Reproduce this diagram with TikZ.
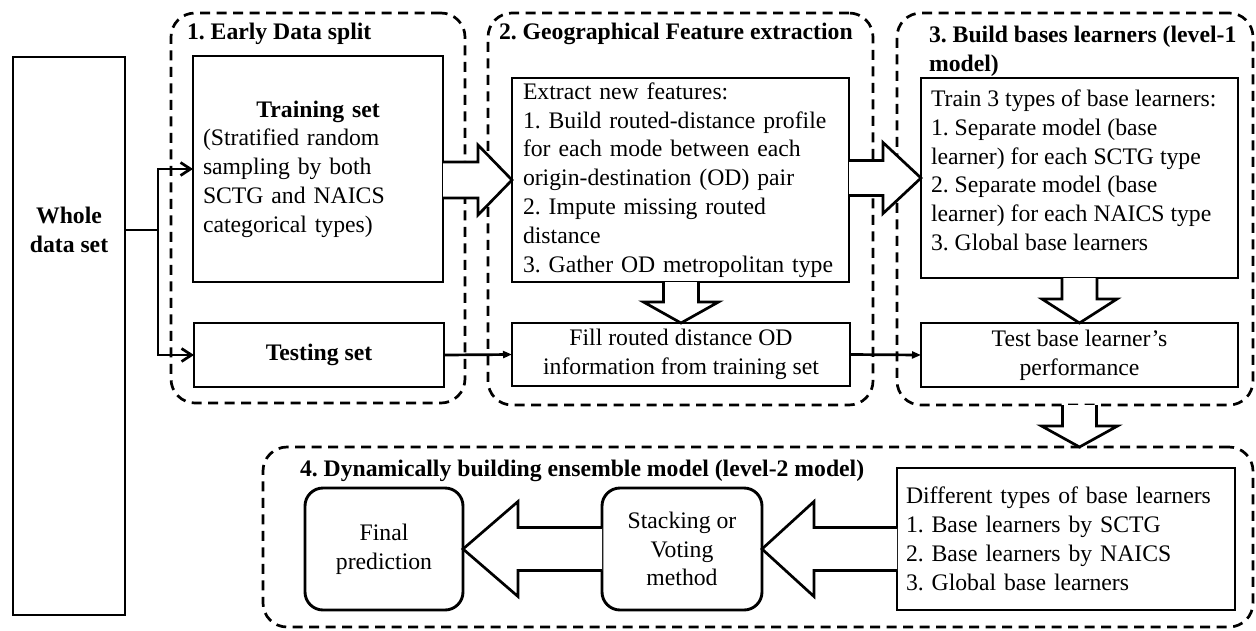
\documentclass[tikz,border=0pt]{standalone}
\usepackage{fontspec}
\setmainfont{Liberation Serif}
\usetikzlibrary{arrows.meta,calc}
\newcommand\fs{\fontsize{23.7}{28.8}\selectfont}
\frenchspacing
\begin{document}
\frenchspacing
\begin{tikzpicture}[x=1pt,y=-1pt,
 every node/.style={font=\fs, inner sep=0pt, outer sep=0pt},
 box/.style={draw, line width=2.9pt, anchor=north west},
 rbox/.style={box, rounded corners=18pt, align=center},
 grp/.style={draw, line width=2.7pt, dash pattern=on 10pt off 6.5pt, rounded corners=24pt, anchor=north west},
 ttl/.style={font=\fs\bfseries},
 blk/.style={draw, fill=white, line width=2.7pt, line join=miter},
 con/.style={line width=2.7pt},
 barb/.style={con, -{Straight Barb[length=10pt,width=13pt]}},
 tri/.style={con, -{Triangle[length=9pt,width=7pt]}}
]
\useasboundingbox (0,0) rectangle (1256,630);

% groups
\node[grp, minimum width=294pt, minimum height=390pt] (g1) at (171,13) {};
\node[grp, minimum width=385pt, minimum height=392pt] (g2) at (488,13) {};
\node[grp, minimum width=356pt, minimum height=392pt] (g3) at (897,13) {};
\node[grp, minimum width=990pt, minimum height=180pt] (g4) at (263,447) {};

% titles
\node[ttl, anchor=base west] (t1) at (187,39) {1. Early Data split};
\node[ttl, anchor=base west] (t2) at (499,39) {2. Geographical Feature extraction};
\node[ttl, anchor=north west, align=left] (t3) at (929,26.5) {3. Build bases learners (level-1\\model)};
\node[ttl, anchor=base west] (t4) at (300,476) {4. Dynamically building ensemble model (level-2 model)};

% whole data set
\node[box, minimum width=112pt, minimum height=558pt] (whole) at (13,57) {};
\node[ttl, align=center] (wholeT) at (69,229.5) {Whole\\data set};

% training / testing
\node[box, minimum width=250pt, minimum height=226pt, text width=230pt, inner xsep=10pt, align=left] (train) at (193,56)
  {\makebox[230pt]{\textbf{Training set}}\\(Stratified random\\sampling by both\\SCTG and NAICS\\categorical types)};
\node[box, minimum width=250pt, minimum height=64pt, font=\fs\bfseries] (testing) at (194,323) {Testing set};

% feature extraction
\node[box, minimum width=337pt, minimum height=204pt, text width=315pt, inner xsep=11pt, align=left] (extract) at (512,78)
  {Extract new features:\\1. Build routed-distance profile\\for each mode between each\\origin-destination (OD) pair\\2. Impute missing routed\\distance\\3. Gather OD metropolitan type};
\node[box, minimum width=338pt, minimum height=63pt, align=center] (fill) at (512,323) {Fill routed distance OD\\information from training set};

% base learners
\node[box, minimum width=317pt, minimum height=200pt] (learn) at (921,78) {};
\node[anchor=north west, align=left] (learnT) at (931,89.8)
  {Train 3 types of base learners:\\1. Separate model (base\\learner) for each SCTG type\\2. Separate model (base\\learner) for each NAICS type\\3. Global base learners};
\node[box, minimum width=317pt, minimum height=64pt, align=center] (perf) at (921,323) {Test base learner’s\\performance};

% ensemble
\node[box, minimum width=338pt, minimum height=142pt, text width=320pt, inner xsep=9pt, align=left] (diff) at (897,468)
  {Different types of base learners\\1. Base learners by SCTG\\2. Base learners by NAICS\\3. Global base learners};
\node[rbox, minimum width=158pt, minimum height=122pt] (final) at (305,488) {Final\\prediction};
\node[rbox, minimum width=160pt, minimum height=122pt] (stack) at (602,488) {Stacking or\\Voting\\method};

% thin connectors
\coordinate (split) at (158,230);
\draw[con] (whole.east |- split) -- (split);
\draw[barb] (split) |- (train.west);
\draw[barb] (split) |- (testing.west);
\draw[tri] (testing.east) -- (fill.west);
\draw[tri] (fill.east) -- (perf.west);

% block arrows
\draw[blk] let \p1=(train.east), \p2=(extract.west) in
  (\x1,\y2+18pt) -- (\x2-34pt,\y2+18pt) -- (\x2-34pt,\y2+35pt) -- (\x2,\y2) -- (\x2-34pt,\y2-35pt) -- (\x2-34pt,\y2-18pt) -- (\x1,\y2-18pt);
\draw[blk] let \p1=(extract.east), \p2=(learn.west) in
  (\x1,\y2+17.5pt) -- (\x2-38pt,\y2+17.5pt) -- (\x2-38pt,\y2+35.5pt) -- (\x2,\y2) -- (\x2-38pt,\y2-35.5pt) -- (\x2-38pt,\y2-17.5pt) -- (\x1,\y2-17.5pt);
\draw[blk] let \p1=(extract.south), \p2=(fill.north) in
  (\x2-17.5pt,\y1) -- (\x2-17.5pt,\y2+21pt) -- (\x2-37.5pt,\y2+21pt) -- (\x2,\y2) -- (\x2+37.5pt,\y2+21pt) -- (\x2+17.5pt,\y2+21pt) -- (\x2+17.5pt,\y1);
\draw[blk] let \p1=(learn.south), \p2=(perf.north) in
  (\x2-17.5pt,\y1) -- (\x2-17.5pt,\y2+24pt) -- (\x2-37.5pt,\y2+24pt) -- (\x2,\y2) -- (\x2+37.5pt,\y2+24pt) -- (\x2+17.5pt,\y2+24pt) -- (\x2+17.5pt,\y1);
\draw[blk] let \p1=(g3.south), \p2=(perf.south |- g4.north) in
  (\x2-17pt,\y1) -- (\x2-17pt,\y2+21pt) -- (\x2-38pt,\y2+21pt) -- (\x2,\y2) -- (\x2+38pt,\y2+21pt) -- (\x2+17pt,\y2+21pt) -- (\x2+17pt,\y1);
\draw[blk] let \p1=(diff.west), \p2=(stack.east) in
  (\x1,\y2+21.5pt) -- (\x2+52pt,\y2+21.5pt) -- (\x2+52pt,\y2+47.5pt) -- (\x2,\y2) -- (\x2+52pt,\y2-47.5pt) -- (\x2+52pt,\y2-21.5pt) -- (\x1,\y2-21.5pt);
\draw[blk] let \p1=(stack.west), \p2=(final.east) in
  (\x1,\y2+21.5pt) -- (\x2+55pt,\y2+21.5pt) -- (\x2+55pt,\y2+47.5pt) -- (\x2,\y2) -- (\x2+55pt,\y2-47.5pt) -- (\x2+55pt,\y2-21.5pt) -- (\x1,\y2-21.5pt);
\end{tikzpicture}
\end{document}
